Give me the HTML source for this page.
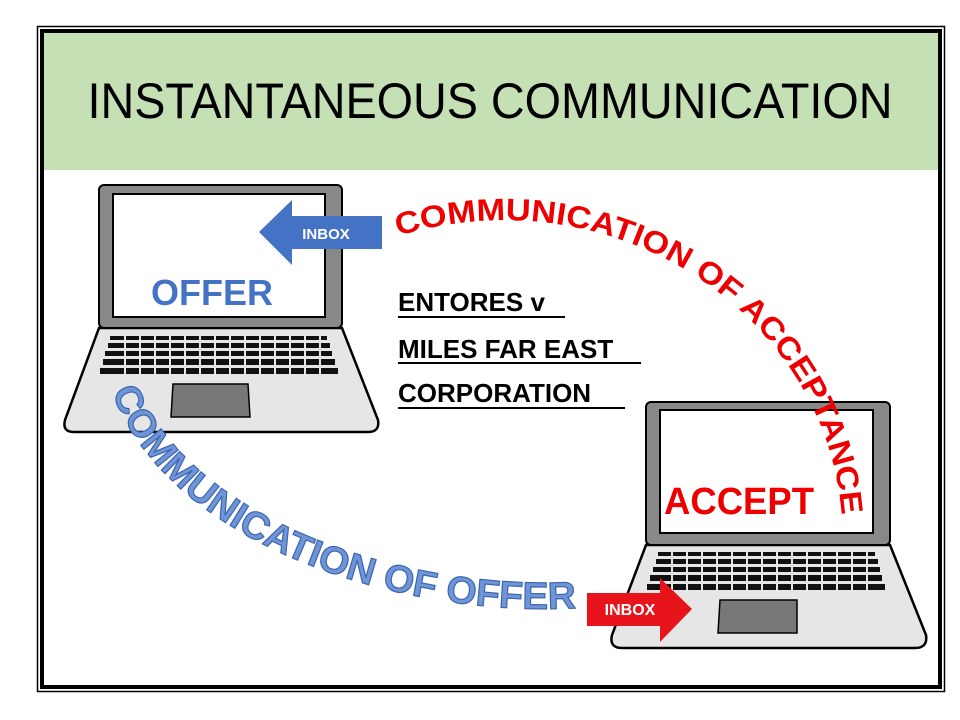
<!DOCTYPE html>
<html><head><meta charset="utf-8"><style>
body{margin:0;background:#fff;}
svg{display:block}
</style></head><body>
<svg width="960" height="720" viewBox="0 0 960 720" xmlns="http://www.w3.org/2000/svg" font-family="Liberation Sans, sans-serif">
<rect x="0" y="0" width="960" height="720" fill="#fff"/>
<rect x="37.5" y="26.5" width="907" height="665" fill="none" stroke="#000" stroke-width="1.5"/>
<rect x="42" y="31" width="898" height="656" fill="none" stroke="#000" stroke-width="4"/>
<rect x="44" y="33" width="894" height="137" fill="#c5e0b4"/>
<text x="490" y="118" font-size="50" text-anchor="middle" fill="#000" textLength="805" lengthAdjust="spacingAndGlyphs">INSTANTANEOUS COMMUNICATION</text>

<g>
<path d="M99,328 L342,328 L378,420 Q380,432 368,432 L74,432 Q62,432 65,420 Z" fill="#e6e6e6" stroke="#000" stroke-width="2.5"/>
<rect x="99" y="185" width="243" height="143" rx="5" fill="#888" stroke="#000" stroke-width="2"/>
<rect x="113" y="194" width="212" height="123" fill="#fff" stroke="#000" stroke-width="2"/>
<g fill="#111">
<rect x="110" y="336" width="217" height="4"/>
<rect x="108" y="343" width="222" height="5"/>
<rect x="105" y="351" width="227" height="5"/>
<rect x="103" y="359" width="232" height="6"/>
<rect x="100" y="368" width="238" height="6"/>
</g>
<g stroke="#e6e6e6" stroke-width="2">
<path d="M125,335V376 M140,335V376 M155,335V376 M170,335V376 M185,335V376 M200,335V376 M215,335V376 M230,335V376 M245,335V376 M260,335V376 M275,335V376 M290,335V376 M305,335V376 M320,335V376"/>
</g>
<path d="M173,384 L248,384 L250,417 L171,417 Z" fill="#777" stroke="#000" stroke-width="1.5"/>
<text x="212" y="305" font-size="36" font-weight="bold" fill="#4472c4" text-anchor="middle">OFFER</text>
</g>

<g>
<path d="M646,545 L890,545 L926,635 Q928,648 915,648 L622,648 Q609,648 612,635 Z" fill="#e6e6e6" stroke="#000" stroke-width="2.5"/>
<rect x="646" y="402" width="244" height="143" rx="5" fill="#888" stroke="#000" stroke-width="2"/>
<rect x="660" y="410" width="213" height="123" fill="#fff" stroke="#000" stroke-width="2"/>
<g fill="#111">
<rect x="658" y="552" width="217" height="4"/>
<rect x="656" y="559" width="222" height="5"/>
<rect x="653" y="567" width="227" height="5"/>
<rect x="650" y="575" width="232" height="6"/>
<rect x="647" y="584" width="238" height="6"/>
</g>
<g stroke="#e6e6e6" stroke-width="2">
<path d="M672,551V592 M687,551V592 M702,551V592 M717,551V592 M732,551V592 M747,551V592 M762,551V592 M777,551V592 M792,551V592 M807,551V592 M822,551V592 M837,551V592 M852,551V592 M867,551V592"/>
</g>
<path d="M720,600 L797,600 L797,633 L718,633 Z" fill="#777" stroke="#000" stroke-width="1.5"/>
<text x="664" y="514" font-size="38" font-weight="bold" fill="#e00" textLength="150" lengthAdjust="spacingAndGlyphs">ACCEPT</text>
</g>

<path d="M382,216 L292,216 L292,200 L259,232 L292,265 L292,249 L382,249 Z" fill="#4472c4"/>
<text x="326" y="239" font-size="15" font-weight="bold" fill="#fff" text-anchor="middle">INBOX</text>
<path d="M587,593 L660,593 L660,578 L692,609 L660,642 L660,626 L587,626 Z" fill="#e8141c"/>
<text x="630" y="615" font-size="16" font-weight="bold" fill="#fff" text-anchor="middle">INBOX</text>

<g font-size="26" font-weight="bold" fill="#000">
<text x="398" y="311">ENTORES v</text>
<rect x="398" y="316" width="167" height="2"/>
<text x="398" y="358">MILES FAR EAST</text>
<rect x="398" y="362" width="243" height="2"/>
<text x="398" y="402">CORPORATION</text>
<rect x="398" y="407" width="227" height="2"/>
</g>

<defs>
<path id="red" d="M398,236 C620,170 830,320 842,520"/>
<path id="blue" d="M112,392 C170,545 400,618 578,608"/>
</defs>
<text font-size="31" font-weight="bold" fill="#e00"><textPath href="#red" textLength="600" lengthAdjust="spacingAndGlyphs">COMMUNICATION OF ACCEPTANCE</textPath></text>
<text font-size="38" font-weight="bold" fill="#6f95d6" stroke="#3d66b0" stroke-width="1.2"><textPath href="#blue" textLength="542" lengthAdjust="spacingAndGlyphs">COMMUNICATION OF OFFER</textPath></text>
</svg>
</body></html>
